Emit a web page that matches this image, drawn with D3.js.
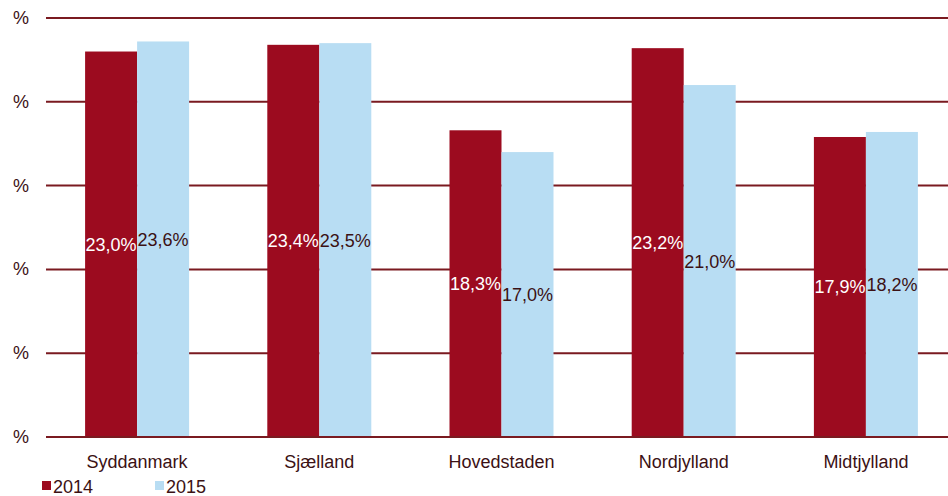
<!DOCTYPE html>
<html><head><meta charset="utf-8">
<script src="https://cdn.jsdelivr.net/npm/d3@7"></script>
<style>body{margin:0;background:#fff}svg{display:block}text{font-family:"Liberation Sans",Arial,sans-serif}</style>
</head><body><svg id="c" width="948" height="496"></svg>
<script>
const categories = ["Syddanmark","Sjælland","Hovedstaden","Nordjylland","Midtjylland"];
const seriesNames = ["2014","2015"];
const values2014 = [23.0,23.4,18.3,23.2,17.9];
const values2015 = [23.6,23.5,17.0,21.0,18.2];
const yTicks = [0,5,10,15,20,25];
const labels2014 = ["23,0%","23,4%","18,3%","23,2%","17,9%"];
const labels2015 = ["23,6%","23,5%","17,0%","21,0%","18,2%"];

const colors = ["#9c0b1f","#b8ddf3"];
const gridColor = "#7a1a20";
const textColor = "#3b1114";
const fs = 18;
const svg = d3.select("#c");
const x = d3.scaleBand().domain(categories).range([46,957]).paddingInner(0).paddingOuter(0);
const y = d3.scaleLinear().domain([0,25]).range([437,18]);
const barW = 52;
const x1 = d3.scaleBand().domain(seriesNames).range([x.bandwidth()/2-barW, x.bandwidth()/2+barW]);

svg.append("g").selectAll("line").data(yTicks).join("line")
  .attr("x1",46).attr("x2",948).attr("y1",d=>y(d)).attr("y2",d=>y(d))
  .attr("stroke",gridColor).attr("stroke-width",2);
svg.append("g").selectAll("text").data(yTicks).join("text")
  .attr("x",21).attr("y",d=>y(d)+6).attr("text-anchor","middle")
  .attr("font-size",fs).attr("fill",textColor).text("%");

const series = [values2014, values2015];
const lbls = [labels2014, labels2015];
series.forEach((vals,si)=>{
  svg.append("g").selectAll("rect").data(vals).join("rect")
    .attr("x",(d,i)=>x(categories[i])+x1(seriesNames[si]))
    .attr("width",x1.bandwidth())
    .attr("y",d=>y(d)).attr("height",d=>y(0)-y(d))
    .attr("fill",colors[si]);
});
svg.append("line").attr("x1",46).attr("x2",948).attr("y1",y(0)).attr("y2",y(0))
  .attr("stroke",gridColor).attr("stroke-width",2);
series.forEach((vals,si)=>{
  svg.append("g").selectAll("text").data(vals).join("text")
    .attr("x",(d,i)=>x(categories[i])+x1(seriesNames[si])+x1.bandwidth()/2)
    .attr("y",d=>(y(d)+y(0))/2+6.5)
    .attr("text-anchor","middle").attr("font-size",fs)
    .attr("fill",si===0?"#ffffff":textColor)
    .text((d,i)=>lbls[si][i]);
});
svg.append("g").selectAll("text").data(categories).join("text")
  .attr("x",d=>x(d)+x.bandwidth()/2).attr("y",468)
  .attr("text-anchor","middle").attr("font-size",fs).attr("fill",textColor).text(d=>d);
const leg = svg.append("g").selectAll("g").data(seriesNames).join("g")
  .attr("transform",(d,i)=>`translate(${42+i*113},0)`);
leg.append("rect").attr("x",0).attr("y",481).attr("width",9).attr("height",9).attr("fill",(d,i)=>colors[i]);
leg.append("text").attr("x",11).attr("y",493).attr("font-size",fs).attr("fill",textColor).text(d=>d);
</script></body></html>
